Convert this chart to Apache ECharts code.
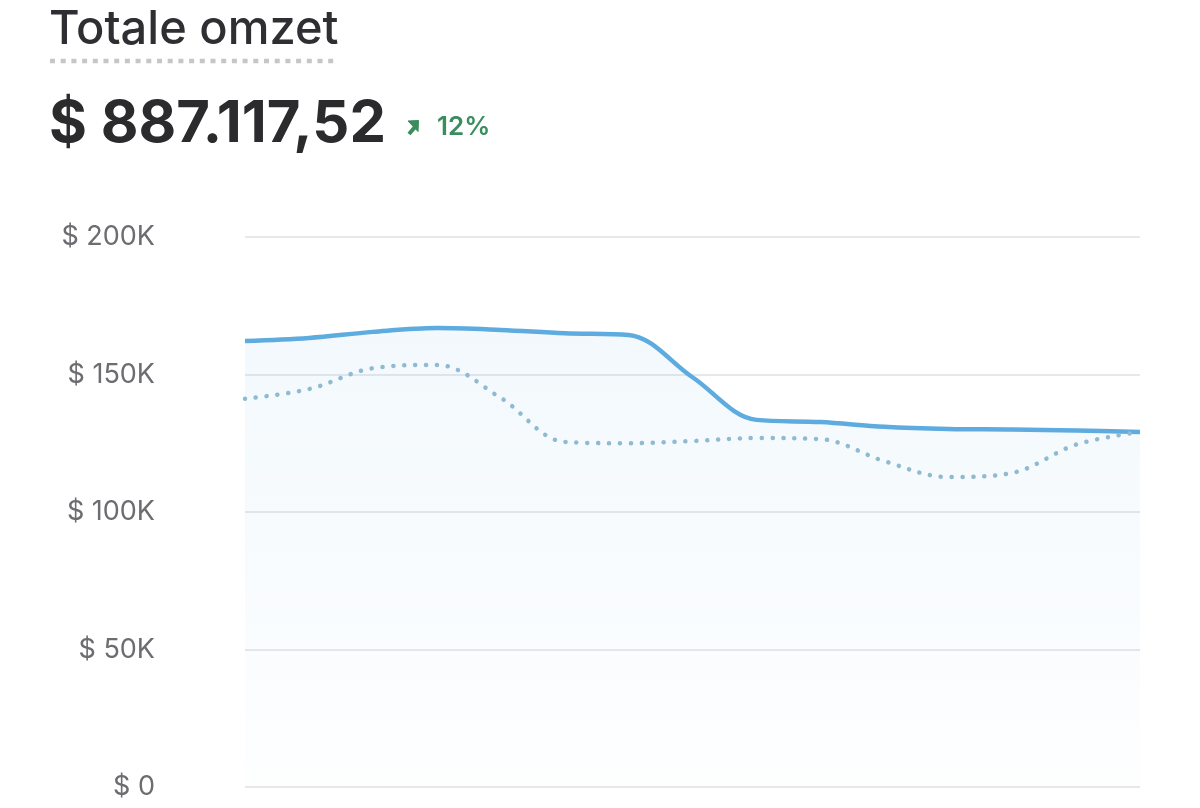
<!DOCTYPE html>
<html>
<head>
<meta charset="utf-8">
<script src="https://cdn.jsdelivr.net/npm/echarts@6/dist/echarts.min.js"></script>
<style>
  html, body { margin: 0; padding: 0; background: #ffffff; }
  #chart { width: 1200px; height: 808px; }
</style>
</head>
<body>
<div id="chart"></div>
<script>
// ---- Data ----
var categories = ['1','2','3','4','5','6','7','8','9','10','11','12','13','14','15'];
var currentValues = [162200, 163300, 165500, 166900, 166200, 165000, 164400, 149000, 133500, 132700, 131000, 130200, 130000, 129600, 129100];
var previousValues = [141200, 144700, 152300, 153500, 141500, 125500, 125000, 125800, 126900, 126500, 118500, 112700, 114200, 124500, 129100];
var yTickLabels = ['$ 0', '$ 50K', '$ 100K', '$ 150K', '$ 200K'];
var titleText = 'Totale omzet';
var totalText = '$ 887.117,52';
var changeText = '12%';

var chart = echarts.init(document.getElementById('chart'), null, { renderer: 'canvas' });

var green = '#3a8d5d';
var option = {
  backgroundColor: '#ffffff',
  animation: false,
  graphic: [
    {
      type: 'text', left: 49, top: 6,
      style: { text: titleText, font: '500 47px Inter', fill: '#2f2f33' }
    },
    {
      type: 'line',
      shape: { x1: 50, y1: 61, x2: 338, y2: 61 },
      style: { stroke: '#c6c6c9', lineWidth: 4.5, lineDash: [5, 5.7] }
    },
    {
      type: 'text', left: 49, top: 96,
      style: { text: totalText, font: 'bold 58px Inter', fill: '#2b2b2e' }
    },
    {
      type: 'line',
      shape: { x1: 409, y1: 134, x2: 415, y2: 127 },
      style: { stroke: green, lineWidth: 4 }
    },
    {
      type: 'polygon',
      shape: { points: [[418.5, 120.5], [408, 121], [418, 131.5]] },
      style: { fill: green, stroke: green, lineWidth: 1, lineJoin: 'round' }
    },
    {
      type: 'text', left: 437, top: 114,
      style: { text: changeText, font: '600 26px Inter', fill: green }
    }
  ],
  grid: { left: 245, right: 60, top: 237, bottom: 21, containLabel: false },
  xAxis: {
    type: 'category',
    data: categories,
    boundaryGap: false,
    axisLine: { show: false },
    axisTick: { show: false },
    axisLabel: { show: false },
    splitLine: { show: false }
  },
  yAxis: {
    type: 'value',
    min: 0,
    max: 200000,
    interval: 50000,
    axisLine: { show: false },
    axisTick: { show: false },
    axisLabel: {
      margin: 90,
      fontFamily: 'Inter',
      fontSize: 27,
      color: '#6c6c71',
      align: 'right',
      formatter: function (v) { return yTickLabels[Math.round(v / 50000)]; }
    },
    splitLine: { lineStyle: { color: '#e7e8eb', width: 2 } }
  },
  series: [
    {
      type: 'line',
      data: currentValues,
      smooth: 0.35,
      symbol: 'none',
      lineStyle: { color: '#5dabdf', width: 4.5 },
      areaStyle: {
        color: new echarts.graphic.LinearGradient(0, 0, 0, 1, [
          { offset: 0, color: 'rgba(93,171,223,0.11)' },
          { offset: 1, color: 'rgba(93,171,223,0.015)' }
        ])
      },
      z: 2
    },
    {
      type: 'line',
      data: previousValues,
      smooth: 0.35,
      symbol: 'none',
      lineStyle: { color: '#8fbad0', width: 4.5, type: [0.1, 10.8], cap: 'round' },
      z: 3
    }
  ]
};
chart.setOption(option);
</script>
</body>
</html>
